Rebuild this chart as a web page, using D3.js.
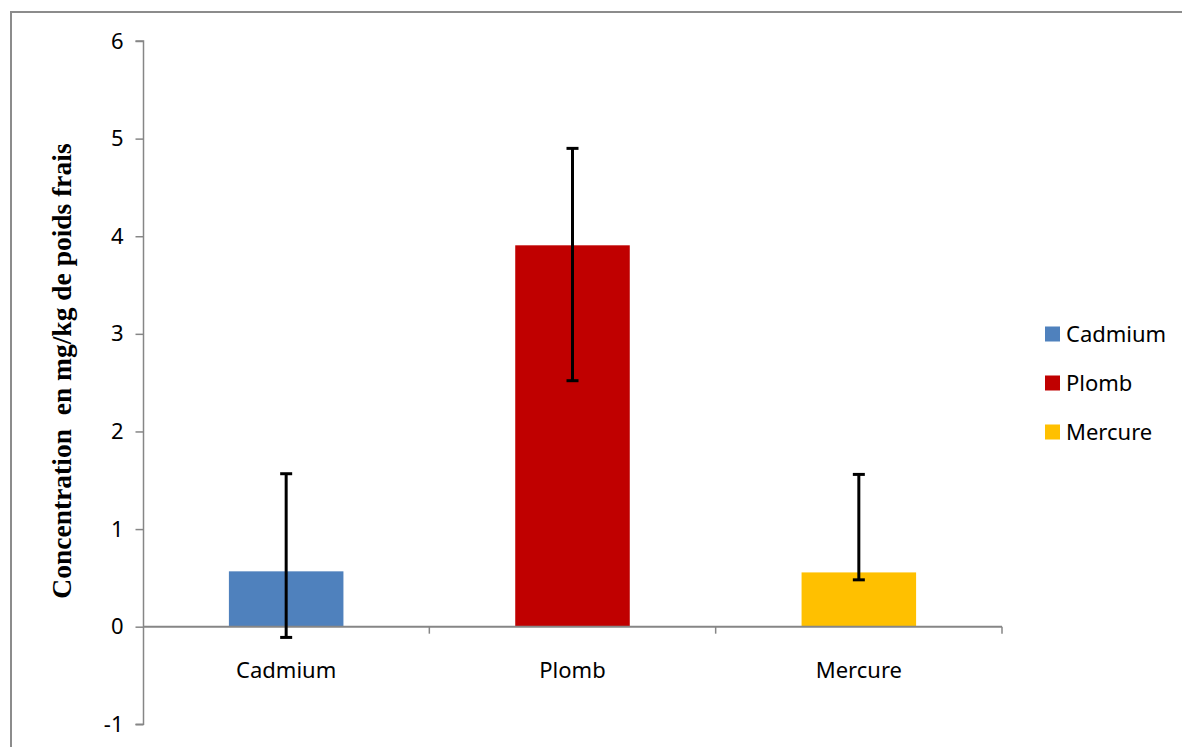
<!DOCTYPE html>
<html><head><meta charset="utf-8">
<script src="https://cdn.jsdelivr.net/npm/d3@7"></script>
<style>body{margin:0;background:#fff}svg{display:block}</style>
</head><body>
<svg id="c" width="1182" height="747"></svg>
<script>
const categories = ["Cadmium", "Plomb", "Mercure"];
const values = [0.567, 3.907, 0.556];
const errLow = [-0.11, 2.52, 0.48];
const errHigh = [1.567, 4.90, 1.56];
const colors = ["#4f81bd", "#c00000", "#ffc000"];
const yTicks = [-1, 0, 1, 2, 3, 4, 5, 6];
const yTitle = "Concentration  en mg/kg de poids frais";

const svg = d3.select("#c");
const axisColor = "#868686";
const font = "'Noto Sans', sans-serif";

// outer border
svg.append("rect").attr("x", 11).attr("y", 12).attr("width", 1300).attr("height", 900)
  .attr("fill", "none").attr("stroke", "#8c8c8c").attr("stroke-width", 2);

const y = d3.scaleLinear().domain([-1, 6]).range([724.3, 41]);
const x = d3.scaleBand().domain(categories).range([143, 1002]).paddingInner(0.6).paddingOuter(0.3);
const xEdge = d3.scaleBand().domain(categories).range([143, 1002]).padding(0);

// y axis
const yAxis = d3.axisLeft(y).tickValues(yTicks).tickSize(8).tickPadding(12).tickFormat(d => String(d));
const gy = svg.append("g").attr("transform", "translate(143.5,0)").call(yAxis);
gy.select(".domain").attr("stroke", axisColor).attr("stroke-width", 1.5).attr("d", `M-8,${y(6)}H0V${y(-1)}H-8`);
gy.selectAll(".tick line").attr("stroke", axisColor).attr("stroke-width", 1.5);
gy.selectAll(".tick text").attr("font-family", font).attr("font-size", 22).attr("fill", "#000");

// bars
svg.append("g").selectAll("rect").data(categories).join("rect")
  .attr("x", d => x(d)).attr("width", x.bandwidth())
  .attr("y", (d, i) => y(values[i])).attr("height", (d, i) => y(0) - y(values[i]))
  .attr("fill", (d, i) => colors[i]);

// x axis at zero
const gx = svg.append("g");
gx.append("line").attr("x1", 143).attr("x2", 1002).attr("y1", y(0)).attr("y2", y(0))
  .attr("stroke", axisColor).attr("stroke-width", 2);
const edges = categories.map(c => xEdge(c) + xEdge.bandwidth());
gx.selectAll("line.t").data(edges).join("line").attr("class", "t")
  .attr("x1", d => d).attr("x2", d => d).attr("y1", y(0)).attr("y2", y(0) + 7)
  .attr("stroke", axisColor).attr("stroke-width", 1.5);
gx.selectAll("text").data(categories).join("text")
  .attr("x", d => x(d) + x.bandwidth() / 2).attr("y", 678)
  .attr("text-anchor", "middle").attr("font-family", font).attr("font-size", 22)
  .text(d => d);

// error bars
const eb = svg.append("g").attr("stroke", "#000").attr("stroke-width", 3);
categories.forEach((c, i) => {
  const cx = x(c) + x.bandwidth() / 2;
  eb.append("line").attr("x1", cx).attr("x2", cx).attr("y1", y(errLow[i])).attr("y2", y(errHigh[i]));
  eb.append("line").attr("x1", cx - 6).attr("x2", cx + 6).attr("y1", y(errLow[i])).attr("y2", y(errLow[i]));
  eb.append("line").attr("x1", cx - 6).attr("x2", cx + 6).attr("y1", y(errHigh[i])).attr("y2", y(errHigh[i]));
});

// y title
svg.append("text").attr("transform", "translate(71,371) rotate(-90)")
  .attr("text-anchor", "middle").attr("font-family", "'Liberation Serif', 'Times New Roman', serif")
  .attr("font-weight", "bold").attr("font-size", 27.5).attr("xml:space", "preserve")
  .style("white-space", "pre").text(yTitle);

// legend
const lg = svg.append("g");
categories.forEach((c, i) => {
  const cy = 334 + i * 49;
  lg.append("rect").attr("x", 1045).attr("y", cy - 7.5).attr("width", 15).attr("height", 15).attr("fill", colors[i]);
  lg.append("text").attr("x", 1066).attr("y", cy).attr("dy", "0.36em")
    .attr("font-family", font).attr("font-size", 22).text(c);
});
</script>
</body></html>
